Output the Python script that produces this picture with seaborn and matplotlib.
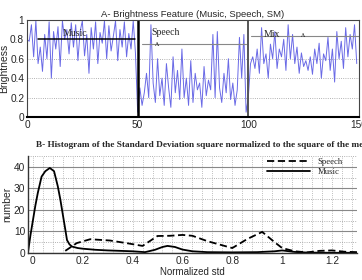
import numpy as np
import pandas as pd
import matplotlib
matplotlib.use("Agg")
import matplotlib.pyplot as plt
import seaborn as sns
from matplotlib.ticker import MultipleLocator

sns.set_style("white")
plt.rcParams["font.family"] = ["Liberation Sans", "DejaVu Sans"]

# A - brightness feature, 150 frames (music / speech / mix)
music = [0.80, 0.78, 0.95, 0.62, 0.99, 0.55, 0.72, 0.47, 0.85, 0.60,
         0.98, 0.40, 0.88, 0.70, 0.93, 0.52, 0.99, 0.80, 0.90, 0.65,
         0.97, 0.72, 0.95, 0.58, 0.88, 0.99, 0.63, 0.85, 0.45, 0.92,
         0.70, 0.98, 0.55, 0.87, 0.76, 0.99, 0.60, 0.94, 0.68, 0.83,
         0.99, 0.58, 0.90, 0.72, 0.98, 0.62, 0.86, 0.70, 0.99, 0.66]
speech = [0.05, 0.30, 0.12, 0.25, 0.45, 0.20, 0.95, 0.35, 0.15, 0.60,
          0.22, 0.40, 0.12, 0.55, 0.30, 0.10, 0.62, 0.25, 0.48, 0.18,
          0.70, 0.20, 0.40, 0.12, 0.58, 0.15, 0.45, 0.28, 0.35, 0.10,
          0.52, 0.22, 0.38, 0.28, 0.85, 0.20, 0.88, 0.30, 0.15, 0.45,
          0.25, 0.60, 0.18, 0.35, 0.12, 0.28, 0.82, 0.40, 0.85, 0.05]
mix = [0.20, 0.55, 0.62, 0.50, 0.70, 0.45, 0.92, 0.55, 0.65, 0.40,
       0.75, 0.60, 0.88, 0.50, 0.70, 0.62, 0.80, 0.48, 0.95, 0.60,
       0.85, 0.55, 0.72, 0.45, 0.66, 0.52, 0.58, 0.48, 0.62, 0.44,
       0.70, 0.55, 0.76, 0.40, 0.65, 0.58, 0.82, 0.48, 0.70, 0.36,
       0.88, 0.60, 0.78, 0.50, 0.92, 0.62, 0.85, 0.70, 0.95, 0.55]
brightness = music + speech + mix
frames = list(range(len(brightness)))

# B - histogram curves
music_x = [-0.02, -0.01, 0.0, 0.01, 0.02, 0.035, 0.05, 0.068, 0.085, 0.10,
           0.11, 0.12, 0.13, 0.137, 0.147, 0.157, 0.18, 0.20, 0.25, 0.30,
           0.35, 0.40, 0.45, 0.49, 0.52, 0.54, 0.57, 0.60, 0.64, 0.70,
           0.80, 0.90, 0.97, 1.00, 1.05, 1.10, 1.20, 1.30]
music_y = [0, 8, 15, 22, 28, 35.5, 38, 39.5, 38, 31,
           25, 18, 11, 6, 4, 3, 2.3, 2, 1.5, 1.2,
           1.0, 0.8, 0.4, 1.5, 2.8, 3.3, 2.8, 1.6, 0.8, 0.4,
           0.3, 0.4, 0.8, 1.2, 0.5, 0.2, 0.1, 0.1]
speech_x = [0.13, 0.176, 0.23, 0.31, 0.38, 0.44, 0.50, 0.55, 0.60, 0.64,
            0.70, 0.80, 0.86, 0.92, 0.97, 1.00, 1.05, 1.10, 1.15, 1.20,
            1.25, 1.30]
speech_y = [1, 4.6, 6.4, 5.8, 4.5, 3.3, 7.9, 8.0, 8.4, 8.0,
            5.5, 2.3, 6.5, 9.8, 5.0, 2.3, 0.8, 0.3, 1.0, 1.2,
            0.6, 0.4]

fig = plt.figure(figsize=(3.62, 2.8), dpi=100)
ax1 = fig.add_axes([0.0746, 0.582, 0.917, 0.347])
ax2 = fig.add_axes([0.077, 0.0964, 0.909, 0.346])

sns.lineplot(x=frames, y=brightness, ax=ax1, color="#6a6ae6", lw=0.7)
ax1.set_xlim(0, 150)
ax1.set_ylim(0, 1)
ax1.set_xticks([0, 50, 100, 150])
ax1.set_yticks([0, 0.2, 0.4, 0.6, 0.8, 1])
ax1.set_yticklabels(["0", "0.2", "0.4", "0.6", "0.8", "1"])
for v in [0.2, 0.4, 0.6]:
    ax1.axhline(v, color="#999999", ls=":", lw=0.6, zorder=0)
ax1.axvline(50, color="black", lw=1.8)
ax1.axvline(100, color="#555555", lw=1.4)
# segment markers
ax1.plot([5, 49], [0.8, 0.8], color="black", lw=1.1)
ax1.plot([52, 99], [0.75, 0.75], color="#888888", lw=0.8)
ax1.plot([101, 150], [0.83, 0.83], color="#888888", lw=0.8)
serif = ["Liberation Serif", "DejaVu Serif"]
ax1.text(16, 0.83, "Music", family=serif, fontsize=7)
ax1.text(56, 0.84, "Speech", family=serif, fontsize=7)
ax1.text(107, 0.82, "Mix", family=serif, fontsize=7)
ax1.text(58, 0.73, "\u028c", family=serif, fontsize=6)
ax1.text(124, 0.82, "\u028c", family=serif, fontsize=6)
ax1.set_ylabel("Brightness", fontsize=7.5, labelpad=1)
ax1.set_title("A- Brightness Feature (Music, Speech, SM)", fontsize=6.8, pad=2)
ax1.tick_params(labelsize=7.3, length=0, pad=2)
for s in ax1.spines.values():
    s.set_color("#444444")
    s.set_linewidth(0.8)
ax1.spines["bottom"].set_color("black")
ax1.spines["bottom"].set_linewidth(1.5)

sns.lineplot(x=speech_x, y=speech_y, ax=ax2, color="black", lw=1.3,
             ls=(0, (4, 2)), label="Speech")
sns.lineplot(x=music_x, y=music_y, ax=ax2, color="black", lw=1.3,
             label="Music")
ax2.set_xlim(-0.02, 1.3)
ax2.set_ylim(0, 45)
ax2.set_xticks([0, 0.2, 0.4, 0.6, 0.8, 1, 1.2])
ax2.set_xticklabels(["0", "0.2", "0.4", "0.6", "0.8", "1", "1.2"])
ax2.set_yticks([0, 10, 20, 30, 40])
ax2.xaxis.set_minor_locator(MultipleLocator(0.04))
ax2.yaxis.set_minor_locator(MultipleLocator(5))
ax2.grid(True, which="major", axis="y", color="#888888", lw=0.8)
ax2.grid(True, which="minor", axis="y", color="#999999", ls=":", lw=0.6)
ax2.grid(True, which="both", axis="x", color="#aaaaaa", ls=":", lw=0.6)
ax2.set_axisbelow(True)
ax2.set_xlabel("Normalized std", fontsize=7, labelpad=1)
ax2.set_ylabel("number", fontsize=7.5, labelpad=1)
ax2.tick_params(labelsize=7.3, length=0, pad=2)
for side in ["top", "right"]:
    ax2.spines[side].set_visible(False)
for side in ["left", "bottom"]:
    ax2.spines[side].set_color("#333333")
    ax2.spines[side].set_linewidth(1.0)
leg = ax2.legend(loc="upper right", frameon=False, prop={"family": serif, "size": 6.3},
                 handlelength=5, borderaxespad=0.1, labelspacing=0.3,
                 bbox_to_anchor=(0.97, 1.03))
fig.text(0.10, 0.475, "B- Histogram of the Standard Deviation square normalized to the square of the mean",
         family=serif, fontweight="bold", fontsize=6.7)

fig.savefig("out.png", dpi=100)
